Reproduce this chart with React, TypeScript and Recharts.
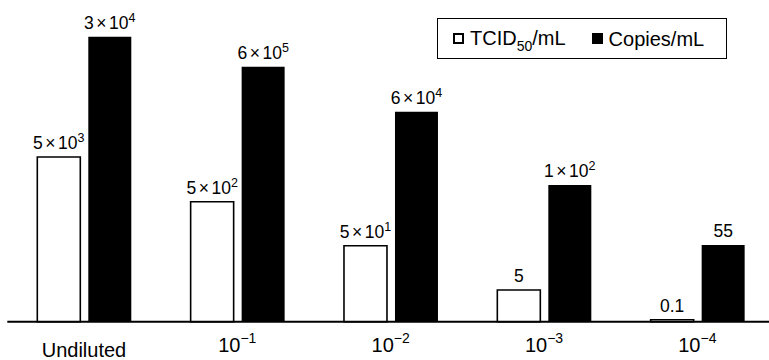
import { Bar, BarChart, LabelList, Legend, XAxis, YAxis } from "recharts";

// bar heights are read off the picture (the printed labels are not to scale)
const categories = ["Undiluted", "10^−1", "10^−2", "10^−3", "10^−4"];
const tcidHeights = [164.7, 120, 76, 31.7, 2];
const copiesHeights = [285, 255, 210, 136.7, 76.7];
const tcidLabels = ["5×10^3", "5×10^2", "5×10^1", "5", "0.1"];
const copiesLabels = ["3×10^4", "6×10^5", "6×10^4", "1×10^2", "55"];
const legendOrder = ["tcid", "copies"];

const data = categories.map((name, i) => ({
  name,
  tcid: tcidHeights[i],
  copies: copiesHeights[i],
  tcidLabel: tcidLabels[i],
  copiesLabel: copiesLabels[i],
}));

const FONT = "'Liberation Sans', Arial, Helvetica, sans-serif";

const PowerText = ({ x, y, text, fontSize, supSize, rise }: any) => {
  const [base, exp] = String(text).split("^");
  const parts = base.split("×");
  return (
    <text x={x} y={y} textAnchor="middle" fontFamily={FONT} fontSize={fontSize} fill="#000">
      {parts.length === 2 ? (
        <>
          <tspan>{parts[0]}</tspan>
          <tspan dx={2.5}>×</tspan>
          <tspan dx={2.5}>{parts[1]}</tspan>
        </>
      ) : (
        <tspan>{base}</tspan>
      )}
      {exp && (
        <tspan dy={-rise} fontSize={supSize}>
          {exp}
        </tspan>
      )}
    </text>
  );
};

const renderBarLabel = (props: any) => {
  const { x, y, width, value } = props;
  return (
    <PowerText
      x={Number(x) + Number(width) / 2}
      y={Number(y) - 8}
      text={value}
      fontSize={17.5}
      supSize={12.5}
      rise={7}
    />
  );
};

const DilutionTick = (props: any) => {
  const { x, y, payload } = props;
  const plain = payload.value === "Undiluted";
  return (
    <PowerText
      x={x}
      y={y + (plain ? 35 : 30.5)}
      text={payload.value}
      fontSize={20}
      supSize={14}
      rise={9}
    />
  );
};

const LegendBox = ({ payload }: any) => {
  const items = [...(payload || [])].sort(
    (a: any, b: any) => legendOrder.indexOf(a.dataKey) - legendOrder.indexOf(b.dataKey)
  );
  return (
    <div
      style={{
        boxSizing: "border-box",
        width: 290,
        height: 41,
        border: "1px solid #000",
        display: "flex",
        alignItems: "center",
        paddingLeft: 15,
        fontFamily: FONT,
        fontSize: 20,
        color: "#000",
      }}
    >
      {items.map((entry: any, i: number) => {
        const [pre, rest] = String(entry.value).split("_");
        const sub = rest ? rest.slice(0, 2) : "";
        const post = rest ? rest.slice(2) : "";
        const filled = entry.dataKey === "copies";
        return (
          <div key={i} style={{ display: "flex", alignItems: "center", marginRight: 26 }}>
            <span
              style={{
                boxSizing: "border-box",
                width: 11,
                height: 11,
                border: "2px solid #000",
                background: filled ? "#000" : "#fff",
                marginRight: 6,
              }}
            />
            <span style={{ whiteSpace: "nowrap", lineHeight: "20px" }}>
              {pre}
              {sub && <span style={{ fontSize: 14, position: "relative", top: 6 }}>{sub}</span>}
              {post}
            </span>
          </div>
        );
      })}
    </div>
  );
};

export default function App() {
  return (
    <div
      style={{
        position: "absolute",
        left: 0,
        top: 0,
        width: 769,
        height: 360,
        overflow: "hidden",
        background: "#fff",
      }}
    >
      <BarChart
        width={775}
        height={360}
        data={data}
        barSize={43}
        barGap={8}
        margin={{ top: 21.7, right: 1, left: 7.3, bottom: 0 }}
      >
        <XAxis
          dataKey="name"
          height={38.3}
          axisLine={{ stroke: "#000", strokeWidth: 2 }}
          tickLine={false}
          tickSize={0}
          tickMargin={0}
          interval={0}
          tick={<DilutionTick />}
        />
        <YAxis hide domain={[0, 300]} />
        <Legend
          layout="horizontal"
          verticalAlign="middle"
          align="center"
          content={<LegendBox />}
          wrapperStyle={{ left: 437, top: 18, width: 290, height: 41 }}
        />
        <Bar
          dataKey="tcid"
          name="TCID_50/mL"
          fill="#fff"
          stroke="#000"
          strokeWidth={1.6}
          isAnimationActive={false}
        >
          <LabelList dataKey="tcidLabel" content={renderBarLabel} />
        </Bar>
        <Bar dataKey="copies" name="Copies/mL" fill="#000" isAnimationActive={false}>
          <LabelList dataKey="copiesLabel" content={renderBarLabel} />
        </Bar>
      </BarChart>
    </div>
  );
}
